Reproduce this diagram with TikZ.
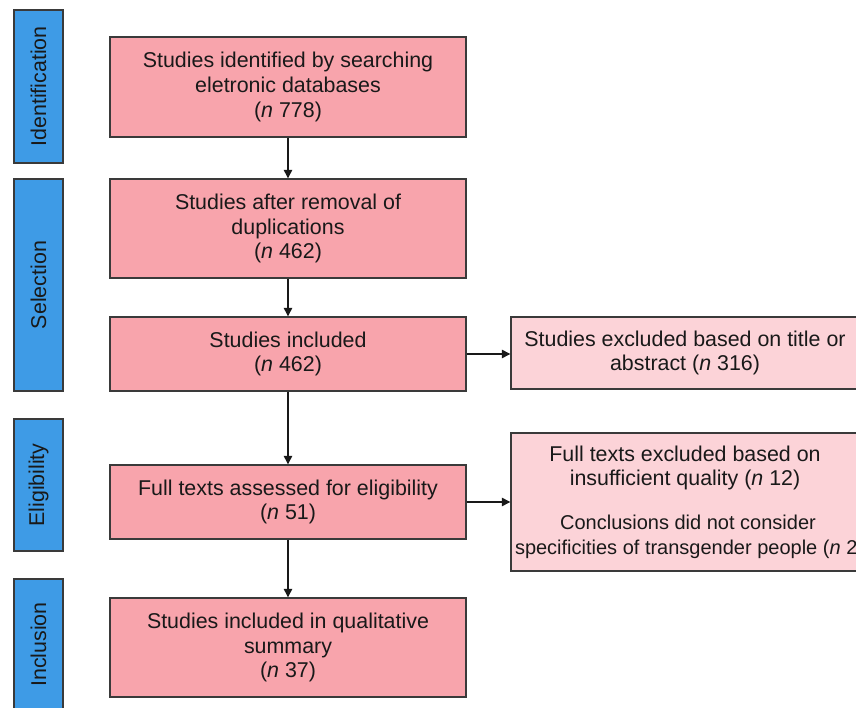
\documentclass[tikz,border=0pt]{standalone}
\usepackage{fontspec}
\setmainfont{Liberation Sans}
\usetikzlibrary{arrows.meta}
\definecolor{bluelab}{RGB}{62,155,230}
\definecolor{pinkmain}{RGB}{248,164,172}
\definecolor{pinklight}{RGB}{252,211,216}
\definecolor{edgegray}{RGB}{58,58,58}
\begin{document}
\begin{tikzpicture}[x=1pt,y=-1pt,
  every node/.style={font=\fontsize{21.4}{24.6}\selectfont, align=center, inner sep=0pt, text=black!90},
  stage/.style={draw=edgegray, line width=1.4pt, fill=bluelab, minimum height=49pt, rotate=90},
  mainbox/.style={draw=edgegray, line width=1.4pt, fill=pinkmain, minimum width=356pt},
  exbox/.style={draw=edgegray, line width=1.4pt, fill=pinklight, minimum width=348pt},
  arr/.style={draw=black!90, line width=1.3pt, -{Triangle[length=8.5pt,width=8.5pt]}}]
\useasboundingbox (0,0) rectangle (856,708);
\clip (0,0) rectangle (856,708);
% stage labels
\node (sid) [stage, minimum width=153pt] at (38.5,86.5) {Identification};
\node (ssel) [stage, minimum width=212pt] at (38.5,285) {Selection};
\node (selig) [stage, minimum width=132pt] at (38.5,485) {Eligibility};
\node (sinc) [stage, minimum width=131pt] at (38.5,644.5) {Inclusion};
% main column
\node (b1) [mainbox, minimum height=100pt] at (288,87) {Studies identified by searching\\eletronic databases\\(\textit{n} 778)};
\node (b2) [mainbox, minimum height=99pt] at (288,228.5) {Studies after removal of\\duplications\\(\textit{n} 462)};
\node (b3) [mainbox, minimum height=74pt] at (288,354) {Studies included\\(\textit{n} 462)};
\node (b4) [mainbox, minimum height=74pt] at (288,502) {Full texts assessed for eligibility\\(\textit{n} 51)};
\node (b5) [mainbox, minimum height=99pt] at (288,647.5) {Studies included in qualitative\\summary\\(\textit{n} 37)};
% exclusion boxes
\node (e1) [exbox, minimum height=72pt] at (685,353) {Studies excluded based on title or\\abstract (\textit{n} 316)};
\node (e2) [exbox, minimum height=138pt] at (685,502) {Full texts excluded based on\\insufficient quality (\textit{n} 12)\\[19pt]\fontsize{20}{24}\selectfont\hspace*{6pt}Conclusions did not consider\\\fontsize{20}{24}\selectfont\makebox[340pt][l]{specificities of transgender people (\textit{n} 2)}};
% connectors
\draw[arr] (b1) -- (b2);
\draw[arr] (b2) -- (b3);
\draw[arr] (b3) -- (b4);
\draw[arr] (b4) -- (b5);
\draw[arr] (b3.east) -- (b3.east -| e1.west);
\draw[arr] (b4.east) -- (b4.east -| e2.west);
\end{tikzpicture}
\end{document}
